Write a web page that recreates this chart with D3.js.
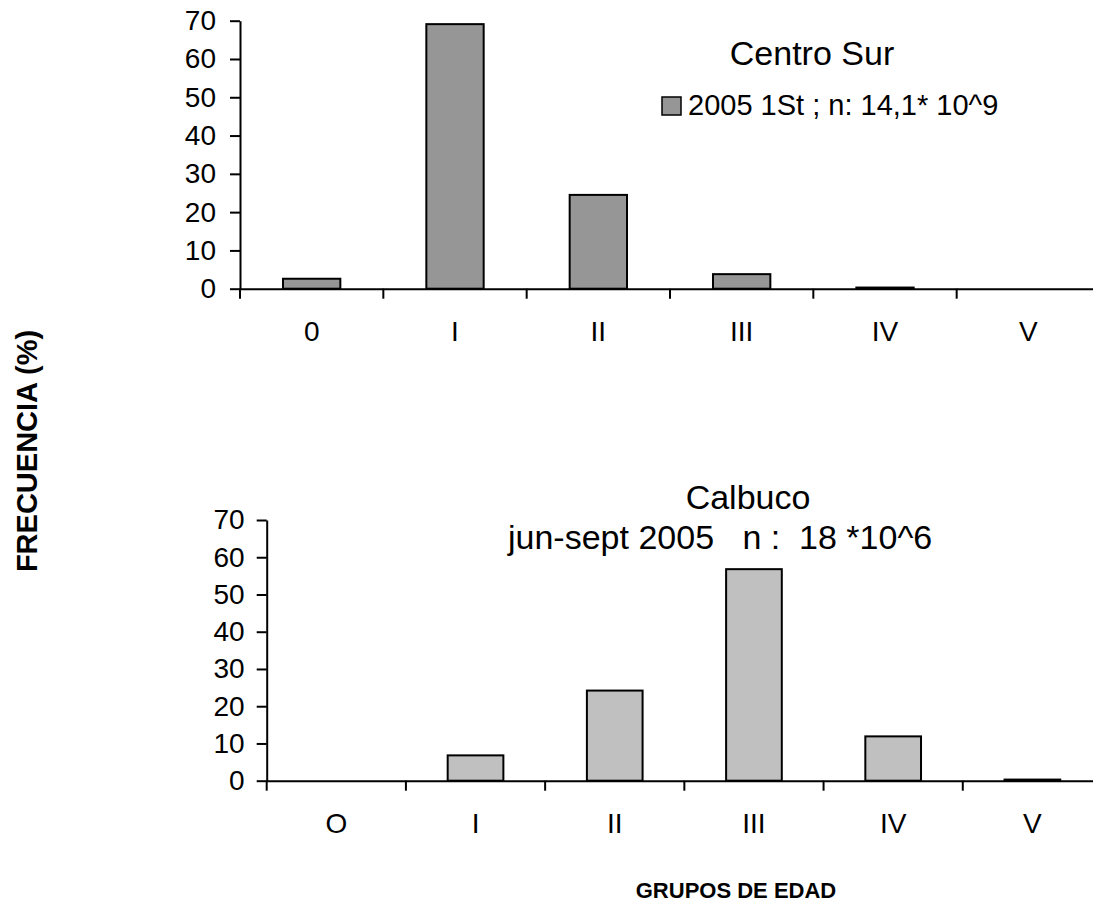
<!DOCTYPE html>
<html>
<head>
<meta charset="utf-8">
<script src="https://cdn.jsdelivr.net/npm/d3@7"></script>
<style>
  body { margin: 0; background: #fff; }
  text { font-family: "Liberation Sans", Arial, sans-serif; fill: #000; }
</style>
</head>
<body>
<div id="chart"></div>
<script>
// Data
var topCategories = ["0", "I", "II", "III", "IV", "V"];
var topValues = [2.6, 69.1, 24.5, 3.8, 0.3, 0];
var bottomCategories = ["O", "I", "II", "III", "IV", "V"];
var bottomValues = [0, 6.8, 24.2, 56.8, 11.9, 0.3];
var yTickValues = [0, 10, 20, 30, 40, 50, 60, 70];

var topTitle = "Centro Sur";
var topLegend = "2005 1St ; n: 14,1* 10^9";
var bottomTitle = ["Calbuco", "jun-sept 2005   n :  18 *10^6"];

// SVG area
var svgWidth = 1093;
var svgHeight = 911;

var svg = d3.select("#chart")
  .append("svg")
  .attr("width", svgWidth)
  .attr("height", svgHeight);

// Draw one bar panel
function drawPanel(cats, values, box, fill) {
  var g = svg.append("g");

  var y = d3.scaleLinear()
    .domain([0, 70])
    .range([box.bottom, box.top]);

  // full bands for ticks and labels
  var xBand = d3.scaleBand()
    .domain(cats)
    .range([box.left, box.right])
    .padding(0);

  // narrower bands for the bars
  var xBars = d3.scaleBand()
    .domain(cats)
    .range([box.left, box.right])
    .paddingInner(0.6)
    .paddingOuter(0.3);

  // bars
  g.selectAll("rect.bar")
    .data(values.map(function(v, i) { return { cat: cats[i], value: v }; }).filter(d => d.value > 0))
    .enter()
    .append("rect")
    .attr("class", "bar")
    .attr("x", d => xBars(d.cat))
    .attr("y", d => y(d.value))
    .attr("width", xBars.bandwidth())
    .attr("height", d => y(0) - y(d.value))
    .attr("fill", fill)
    .attr("stroke", "#000")
    .attr("stroke-width", 2);

  // y axis
  var leftAxis = d3.axisLeft(y)
    .tickValues(yTickValues)
    .tickSizeInner(10)
    .tickSizeOuter(0)
    .tickPadding(box.yPad);

  var yAxis = g.append("g")
    .attr("transform", `translate(${box.left}, 0)`)
    .call(leftAxis);
  yAxis.selectAll("text").style("font-size", "28px");
  yAxis.selectAll("line, path").attr("stroke", "#000").attr("stroke-width", 2);

  // x axis: line and labels
  var bottomAxis = d3.axisBottom(xBand)
    .tickSize(0)
    .tickSizeOuter(0);

  var xAxis = g.append("g")
    .attr("transform", `translate(0, ${box.bottom})`)
    .call(bottomAxis);
  xAxis.select("path.domain").attr("stroke", "#000").attr("stroke-width", 2);
  xAxis.selectAll("text")
    .attr("y", 52)
    .attr("dy", 0)
    .style("font-size", "28px");

  // boundary ticks between categories
  var bounds = cats.map(c => xBand(c)).concat([box.right]);
  g.selectAll("line.xtick")
    .data(bounds)
    .enter()
    .append("line")
    .attr("class", "xtick")
    .attr("x1", d => d)
    .attr("x2", d => d)
    .attr("y1", box.bottom)
    .attr("y2", box.bottom + 10)
    .attr("stroke", "#000")
    .attr("stroke-width", 2);

  return g;
}

// Top panel: Centro Sur
drawPanel(topCategories, topValues,
  { left: 240, right: 1100, top: 20.7, bottom: 288.7, yPad: 14 }, "#969696");

svg.append("text")
  .attr("x", 812)
  .attr("y", 65)
  .attr("text-anchor", "middle")
  .style("font-size", "34px")
  .text(topTitle);

svg.append("rect")
  .attr("x", 662)
  .attr("y", 97)
  .attr("width", 19)
  .attr("height", 18)
  .attr("fill", "#969696")
  .attr("stroke", "#000")
  .attr("stroke-width", 1.5);

svg.append("text")
  .attr("x", 688)
  .attr("y", 115)
  .style("font-size", "29px")
  .text(topLegend);

// Bottom panel: Calbuco
drawPanel(bottomCategories, bottomValues,
  { left: 266.7, right: 1102, top: 520, bottom: 780.7, yPad: 12 }, "#c0c0c0");

svg.append("text")
  .attr("x", 748)
  .attr("y", 509)
  .attr("text-anchor", "middle")
  .style("font-size", "34px")
  .text(bottomTitle[0]);

svg.append("text")
  .attr("x", 508)
  .attr("y", 549)
  .attr("xml:space", "preserve")
  .style("white-space", "pre")
  .style("font-size", "34px")
  .text(bottomTitle[1]);

// Axis titles
svg.append("text")
  .attr("transform", "translate(37, 451) rotate(-90)")
  .attr("text-anchor", "middle")
  .style("font-size", "29px")
  .style("font-weight", "bold")
  .text("FRECUENCIA (%)");

svg.append("text")
  .attr("x", 736)
  .attr("y", 898)
  .attr("text-anchor", "middle")
  .style("font-size", "22px")
  .style("font-weight", "bold")
  .text("GRUPOS DE EDAD");
</script>
</body>
</html>
